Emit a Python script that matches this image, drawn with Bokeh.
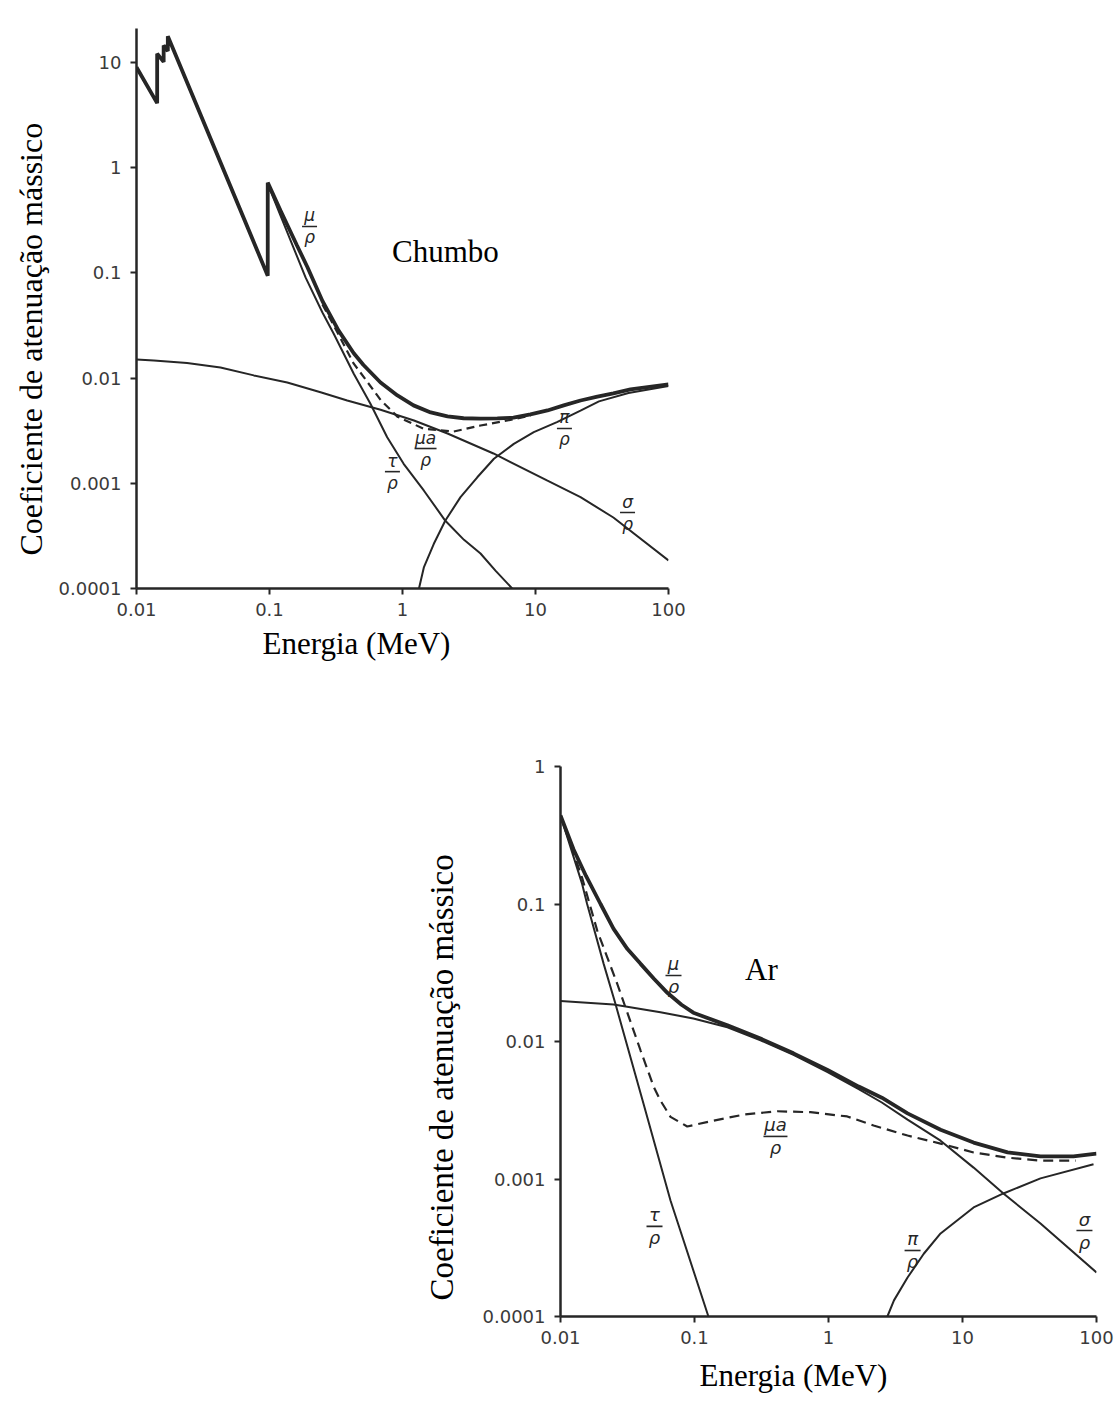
import math
from bokeh.plotting import figure
from bokeh.models import FixedTicker, Label, Title
from bokeh.embed import file_html
from bokeh.resources import INLINE
from bokeh.core.properties import value

# ---------------- Chumbo (lead) ----------------
pb_mu_E = [0.01, 0.0143, 0.0143, 0.016, 0.016, 0.0172, 0.0172, 0.097, 0.097, 0.121, 0.161, 0.193,
           0.25, 0.33, 0.43, 0.509, 0.684, 0.916, 1.21, 1.63, 2.18, 2.88, 3.86, 5.17, 6.83, 9.16,
           12.3, 16.3, 21.8, 29.2, 38.5, 51.8, 100]
pb_mu = [9.0, 4.1, 12.1, 10.1, 14.5, 12.8, 17.7, 0.094, 0.72, 0.39, 0.182, 0.113,
         0.054, 0.0284, 0.0172, 0.0133, 0.00908, 0.00684, 0.0055, 0.00471, 0.00432, 0.00415, 0.00412, 0.00413, 0.00421, 0.00451,
         0.00492, 0.0055, 0.00612, 0.00665, 0.00714, 0.0078, 0.00869]

pb_tau_E = [0.097, 0.121, 0.187, 0.25, 0.304, 0.43, 0.574, 0.767, 1.02, 1.45, 2.10, 2.9, 3.86, 5.0, 6.68]
pb_tau = [0.70, 0.35, 0.09, 0.042, 0.0264, 0.011, 0.0057, 0.00274, 0.00153, 0.00085, 0.00044, 0.00029, 0.000215, 0.000148, 0.0001]

pb_mua_E = [0.25, 0.303, 0.43, 0.512, 0.684, 0.916, 1.44, 2.42, 3.86, 6.15, 9.2]
pb_mua = [0.050, 0.032, 0.0137, 0.0102, 0.0062, 0.0043, 0.0033, 0.0031, 0.00354, 0.00395, 0.0044]

pb_sigma_E = [0.01, 0.0135, 0.024, 0.0428, 0.0762, 0.136, 0.242, 0.384, 0.684, 1.22, 2.18, 4.83, 12.3, 21.8, 38.5, 100]
pb_sigma = [0.015, 0.0147, 0.0139, 0.0126, 0.0106, 0.00908, 0.00734, 0.00612, 0.0050, 0.00395, 0.00297, 0.00192, 0.00106, 0.000738, 0.000473, 0.000185]

pb_pi_E = [1.33, 1.45, 1.72, 2.10, 2.73, 3.65, 4.87, 6.87, 9.71, 14.5, 21.8, 30, 50, 100]
pb_pi = [0.0001, 0.00016, 0.000266, 0.000443, 0.000738, 0.00114, 0.00171, 0.00237, 0.00306, 0.00381, 0.0049, 0.0060, 0.0072, 0.0084]

pb_yticks = [0.0001, 0.001, 0.01, 0.1, 1, 10]
pb_ylabels = ["0.0001", "0.001", "0.01", "0.1", "1", "10"]

# ---------------- Ar (air) ----------------
ar_mu_E = [0.01, 0.0125, 0.0155, 0.0199, 0.0249, 0.0316, 0.0396, 0.05, 0.063, 0.08, 0.098, 0.176, 0.311,
           0.548, 0.984, 1.68, 2.5, 3.89, 6.86, 12.1, 21.7, 38.2, 67.3, 100]
ar_mu = [0.44, 0.25, 0.16, 0.10, 0.066, 0.047, 0.0367, 0.0285, 0.0225, 0.0185, 0.0162, 0.0131, 0.0105,
         0.0082, 0.0062, 0.0047, 0.0039, 0.0030, 0.00228, 0.00184, 0.00156, 0.00146, 0.00146, 0.00153]

ar_tau_E = [0.01, 0.0145, 0.0158, 0.021, 0.0257, 0.041, 0.0662, 0.127]
ar_tau = [0.44, 0.14, 0.10, 0.0367, 0.0188, 0.00372, 0.000698, 0.0001]

ar_mua_E = [0.01, 0.0145, 0.0188, 0.0265, 0.0396, 0.0497, 0.0557, 0.0662, 0.0883, 0.1315, 0.233, 0.414,
            0.734, 1.38, 2.17, 3.89, 6.86, 12.1, 21.7, 38.2, 70]
ar_mua = [0.44, 0.155, 0.064, 0.0263, 0.0086, 0.00466, 0.00372, 0.00283, 0.00241, 0.00263, 0.00294, 0.00311,
          0.00306, 0.00285, 0.00245, 0.00207, 0.00181, 0.00156, 0.00143, 0.00136, 0.00136]

ar_sigma_E = [0.01, 0.0249, 0.0557, 0.098, 0.176, 0.311, 0.548, 0.984, 1.68, 2.5, 3.89, 6.86, 12.1, 20.2, 38.2, 100]
ar_sigma = [0.0197, 0.0186, 0.0163, 0.0147, 0.0127, 0.0102, 0.0080, 0.0060, 0.0045, 0.0036, 0.0027, 0.0019, 0.00121, 0.000785, 0.000474, 0.000209]

ar_pi_E = [2.75, 3.08, 3.89, 5.14, 6.86, 12.1, 20.2, 38.2, 95]
ar_pi = [0.0001, 0.000131, 0.000192, 0.000286, 0.000402, 0.000621, 0.000785, 0.00101, 0.00128]

ar_yticks = [0.0001, 0.001, 0.01, 0.1, 1]
ar_ylabels = ["0.0001", "0.001", "0.01", "0.1", "1"]

xticks = [0.01, 0.1, 1, 10, 100]
xlabels = ["0.01", "0.1", "1", "10", "100"]

ylabel_text = "Coeficiente de atenuação mássico"
xlabel_text = "Energia (MeV)"

INK = "#262626"
SERIF = "Liberation Serif"
SANS = "DejaVu Sans"


def make_fig(height, left, right, top, bottom, yrange, yticks, ylabels):
    p = figure(width=1116, height=height, x_axis_type="log", y_axis_type="log",
               x_range=(0.01, 100), y_range=yrange,
               output_backend="svg", toolbar_location=None,
               min_border_left=left, min_border_right=right,
               min_border_top=top, min_border_bottom=bottom)
    p.outline_line_color = None
    p.grid.visible = False
    p.background_fill_color = "white"
    p.border_fill_color = "white"
    p.xaxis.ticker = FixedTicker(ticks=xticks)
    p.xaxis.major_label_overrides = {t: s for t, s in zip(xticks, xlabels)}
    p.yaxis.ticker = FixedTicker(ticks=yticks)
    p.yaxis.major_label_overrides = {t: s for t, s in zip(yticks, ylabels)}
    for ax in (p.xaxis[0], p.yaxis[0]):
        ax.axis_line_color = INK
        ax.axis_line_width = 2.5
        ax.major_tick_line_color = INK
        ax.major_tick_line_width = 2
        ax.major_tick_in = 0
        ax.major_tick_out = 6
        ax.minor_tick_line_color = None
        ax.major_label_text_font = SANS
        ax.major_label_text_font_size = "18px"
        ax.major_label_text_color = "#3a3a3a"
    p.yaxis.major_label_standoff = 9
    p.xaxis.major_label_standoff = 8
    return p


def frac(p, x, y, num, den, bar=16, size="18px"):
    p.text(x=[x], y=[y], text=[num], text_font=value(SANS), text_font_style="italic",
           text_font_size=size, text_align="center", text_baseline="bottom",
           y_offset=-1, text_color=INK)
    p.scatter(x=[x], y=[y], marker="dash", size=bar, line_color=INK, line_width=1.6)
    p.text(x=[x], y=[y], text=[den], text_font=value(SANS), text_font_style="italic",
           text_font_size=size, text_align="center", text_baseline="top",
           y_offset=1, text_color=INK)


def side_title(p, text, side, offset, standoff, size):
    p.add_layout(Title(text=text, align="left", offset=offset, standoff=standoff,
                       text_font=SERIF, text_font_size=size, text_font_style="normal",
                       text_color="black"), side)


# ---------- top: Chumbo ----------
p1 = make_fig(700, 136, 448, 28, 112, (0.0001, 21), pb_yticks, pb_ylabels)
p1.line(pb_sigma_E, pb_sigma, line_color=INK, line_width=2)
p1.line(pb_tau_E, pb_tau, line_color=INK, line_width=2)
p1.line(pb_pi_E, pb_pi, line_color=INK, line_width=2)
p1.line(pb_mua_E, pb_mua, line_color=INK, line_width=2.2, line_dash="8 5")
p1.line(pb_mu_E, pb_mu, line_color=INK, line_width=3.8)

frac(p1, 0.2, 0.276, "μ", "ρ", bar=15, size="17px")
frac(p1, 0.84, 0.00129, "τ", "ρ", bar=15, size="17px")
frac(p1, 1.49, 0.00214, "μa", "ρ", bar=22, size="17px")
frac(p1, 16.5, 0.00332, "π", "ρ", bar=15, size="17px")
frac(p1, 49.2, 0.000527, "σ", "ρ", bar=15, size="17px")

p1.add_layout(Label(x=2.1, y=0.16, text="Chumbo", text_font=SERIF, text_font_size="31px",
                    text_color="black", text_align="center", text_baseline="middle"))
side_title(p1, ylabel_text, "left", 33, 14, "32px")
side_title(p1, xlabel_text, "below", 126, 10, "31px")

# ---------- bottom: Ar ----------
p2 = make_fig(703, 560, 20, 66, 87, (0.0001, 1), ar_yticks, ar_ylabels)
p2.line(ar_sigma_E, ar_sigma, line_color=INK, line_width=2)
p2.line(ar_tau_E, ar_tau, line_color=INK, line_width=2)
p2.line(ar_pi_E, ar_pi, line_color=INK, line_width=2)
p2.line(ar_mua_E, ar_mua, line_color=INK, line_width=2.2, line_dash="10 6")
p2.line(ar_mu_E, ar_mu, line_color=INK, line_width=3.8)

frac(p2, 0.0697, 0.0302, "μ", "ρ", bar=16)
frac(p2, 0.0503, 0.000452, "τ", "ρ", bar=16)
frac(p2, 0.402, 0.00204, "μa", "ρ", bar=24)
frac(p2, 4.24, 0.000302, "π", "ρ", bar=16)
frac(p2, 81.3, 0.000422, "σ", "ρ", bar=16)

p2.add_layout(Label(x=0.316, y=0.0334, text="Ar", text_font=SERIF, text_font_size="31px",
                    text_color="black", text_align="center", text_baseline="middle"))
side_title(p2, ylabel_text, "left", 16, 40, "33px")
side_title(p2, xlabel_text, "below", 139, 18, "31px")

open("out.html", "w").write(file_html([p1, p2], INLINE))
